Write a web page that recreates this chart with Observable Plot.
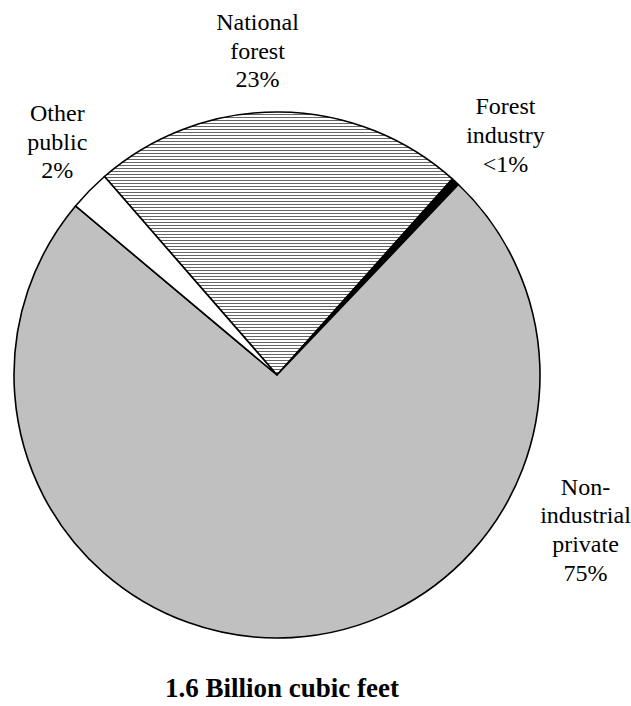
<!DOCTYPE html>
<html>
<head>
<meta charset="utf-8">
<style>
  html, body { margin: 0; padding: 0; background: #fff; font-family: 'Liberation Serif', serif; }
  #chart svg { display: block; }
  #chart svg text { font-family: 'Liberation Serif', serif; }
</style>
</head>
<body>
<div id="chart"></div>
<div id="caption" style="width:564px;text-align:center;font-family:'Liberation Serif',serif;font-weight:bold;font-size:27px;line-height:30px;margin-top:13px;color:#000;">1.6 Billion cubic feet</div>
<script src="https://cdn.jsdelivr.net/npm/d3@7"></script>
<script src="https://cdn.jsdelivr.net/npm/@observablehq/plot@0.6"></script>
<script>
// ---- data ----
const categories = ["National forest", "Forest industry", "Non-industrial private", "Other public"];
const values = [23, 0.5, 74, 2.5];
const labelNames = ["National\nforest", "Forest\nindustry", "Non-\nindustrial\nprivate", "Other\npublic"];
const pctLabels = ["23%", "<1%", "75%", "2%"];

// ---- layout / style (not data) ----
const fills = ["url(#hatch)", "#000000", "#c0c0c0", "#ffffff"];
const startDeg = -41;
const labelXY = [[-0.076, 1.24], [0.867, 0.92], [1.171, -0.582], [-0.837, 0.894]];

const data = categories.map((c, i) => ({category: c, value: values[i], fill: fills[i], label: labelNames[i] + "\n" + pctLabels[i], lx: labelXY[i][0], ly: labelXY[i][1]}));

const pieMark = (index, scales, vals, dimensions, context) => {
  const cx = scales.x(0), cy = scales.y(0), r = scales.x(1) - scales.x(0);
  const g = d3.create("svg:g").attr("transform", `translate(${cx},${cy})`);
  const pat = g.append("defs").append("pattern")
    .attr("id", "hatch").attr("patternUnits", "userSpaceOnUse")
    .attr("width", 6).attr("height", 3);
  pat.append("rect").attr("width", 6).attr("height", 3).attr("fill", "#fff");
  pat.append("rect").attr("width", 6).attr("height", 1).attr("fill", "#666");
  const a0 = startDeg * Math.PI / 180;
  const arcs = d3.pie().sort(null).value(d => d.value).startAngle(a0).endAngle(a0 + 2 * Math.PI)(data);
  const arc = d3.arc().innerRadius(0).outerRadius(r);
  g.selectAll("path").data(arcs).join("path")
    .attr("d", arc)
    .attr("fill", d => d.data.fill)
    .attr("stroke", "#000")
    .attr("stroke-width", 1.6)
    .attr("stroke-linejoin", "round");
  return g.node();
};

const chart = Plot.plot({
  width: 631,
  height: 660,
  marginLeft: 14,
  marginRight: 91,
  marginTop: 112,
  marginBottom: 22,
  x: {domain: [-1, 1], axis: null},
  y: {domain: [-1, 1], axis: null},
  style: {background: "#fff", fontFamily: "'Liberation Serif', serif"},
  marks: [
    pieMark,
    Plot.text(data, {
      x: "lx", y: "ly", text: "label",
      fontFamily: "'Liberation Serif', serif",
      fontSize: 24, lineHeight: 1.2, lineAnchor: "middle", textAnchor: "middle", fill: "#000"
    })
  ]
});
document.getElementById("chart").appendChild(chart);
</script>
</body>
</html>
